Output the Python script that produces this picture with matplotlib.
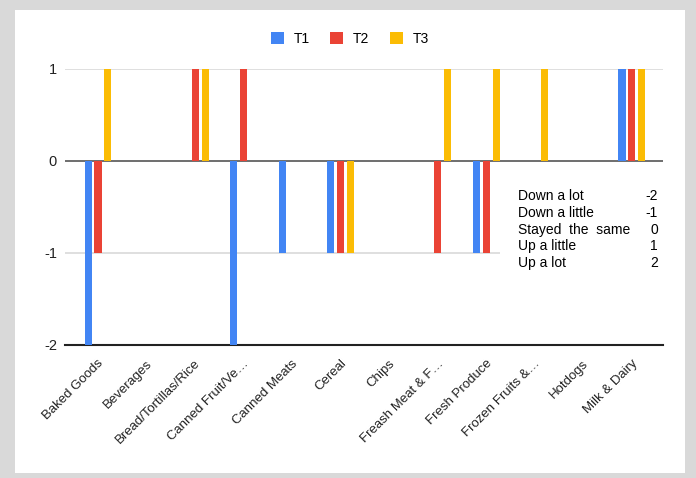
import matplotlib
matplotlib.use("Agg")
import matplotlib.pyplot as plt
import matplotlib.transforms as mtransforms
from matplotlib.patches import Rectangle
import numpy as np

plt.rcParams['font.family'] = ['Liberation Sans', 'DejaVu Sans']

categories = ["Baked Goods", "Beverages", "Bread/Tortillas/Rice", "Canned Fruit/Ve\u2026",
              "Canned Meats", "Cereal", "Chips", "Freash Meat & F\u2026", "Fresh Produce",
              "Frozen Fruits &\u2026", "Hotdogs", "Milk & Dairy"]
t1 = [-2, 0, 0, -2, -1, -1, 0, 0, -1, 0, 0, 1]
t2 = [-1, 0, 1, 1, 0, -1, 0, -1, -1, 0, 0, 1]
t3 = [1, 0, 1, 0, 0, -1, 0, 1, 1, 1, 0, 1]
series_names = ["T1", "T2", "T3"]
colors = ["#4285F4", "#EA4335", "#FBBC04"]
y_ticks = [-2, -1, 0, 1]
scale_labels = ["Down a lot", "Down a little", "Stayed  the  same", "Up a little", "Up a lot"]
scale_values = ["-2", "-1", "0", "1", "2"]

W, H = 696, 478
fig = plt.figure(figsize=(W / 100, H / 100), dpi=100)
fig.patch.set_facecolor("#d9d9d9")
# white card inside the gray frame
fig.patches.append(Rectangle((15 / W, 1 - 473 / H), 670 / W, 463 / H,
                             transform=fig.transFigure, facecolor="white",
                             edgecolor="none", zorder=-10))

ax = fig.add_axes([65 / W, (H - 345) / H, 598 / W, 276 / H])
ax.set_facecolor("none")

x = np.arange(len(categories))
step = 0.205
width = 0.145
for k, (vals, name, c) in enumerate(zip([t1, t2, t3], series_names, colors)):
    ax.bar(x + (k - 1) * step, vals, width=width, color=c, label=name, zorder=3)

ax.set_xlim(-0.68, 11.64)
ax.set_ylim(-2, 1)
ax.set_yticks(y_ticks)
ax.set_yticklabels([str(v) for v in y_ticks], fontsize=10.5, color="#222222")
for yv in [1, -1]:
    ax.axhline(yv, color="#d9d9d9", lw=1.2, zorder=1)
ax.axhline(0, color="#555555", lw=1.2, zorder=2)
ax.axhline(-2, color="#222222", lw=1.5, zorder=2, clip_on=False)
for s in ax.spines.values():
    s.set_visible(False)
ax.tick_params(axis="both", length=0)
ax.tick_params(axis="y", pad=5.8)
ax.set_xticks(x)
ax.set_xticklabels(categories, rotation=45, ha="right", rotation_mode="anchor",
                   fontsize=9.5, color="#222222")
offset = mtransforms.ScaledTranslation(-0.5 / 72, -5.5 / 72, fig.dpi_scale_trans)
for lab in ax.get_xticklabels():
    lab.set_transform(lab.get_transform() + offset)

fig.legend(loc="center", bbox_to_anchor=(350 / W, 1 - 39 / H), ncol=3, frameon=False,
           fontsize=10, handlelength=0.95, handleheight=1.0, handletextpad=0.7,
           columnspacing=1.45)

# scale key in the lower right
fig.patches.append(Rectangle((500 / W, 1 - 280 / H), 170 / W, 100 / H,
                             transform=fig.transFigure, facecolor="white",
                             edgecolor="none", zorder=5))
for i, (lab, val) in enumerate(zip(scale_labels, scale_values)):
    ypix = 196 + i * 16.8
    fig.text(518 / W, 1 - ypix / H, lab, fontsize=10, va="center", ha="left",
             color="#000000", zorder=6)
    fig.text(658 / W, 1 - ypix / H, val, fontsize=10, va="center", ha="right",
             color="#000000", zorder=6)

fig.savefig("out.png", dpi=100, facecolor=fig.get_facecolor())
